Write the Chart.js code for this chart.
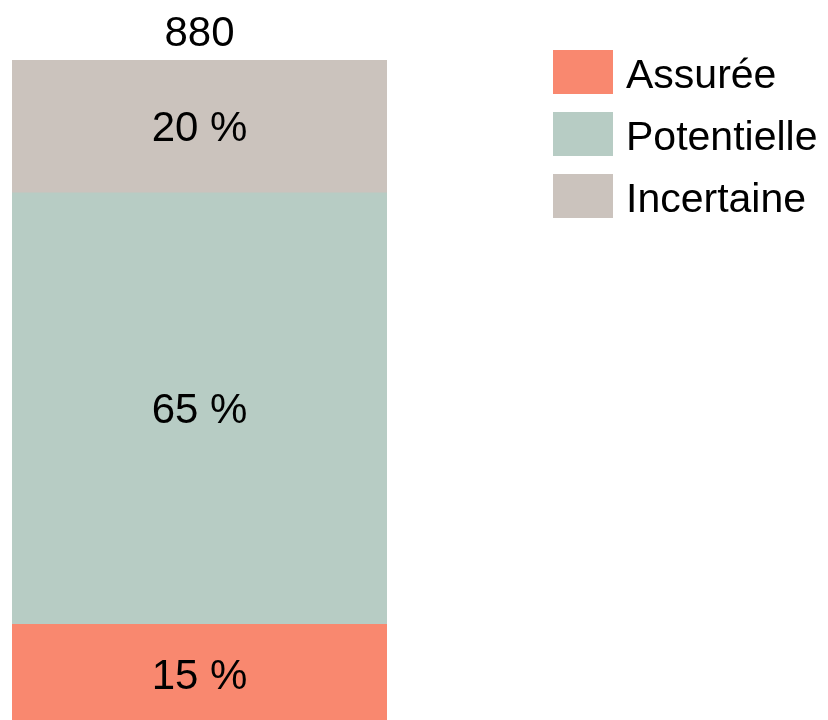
<!DOCTYPE html>
<html>
<head>
<meta charset="utf-8">
<script src="https://cdn.jsdelivr.net/npm/chart.js@4"></script>
<style>
  html, body { margin: 0; padding: 0; background: #fff; overflow: hidden; }
  #wrap { width: 828px; height: 724px; position: relative; }
</style>
</head>
<body>
<div id="wrap"><canvas id="chart"></canvas></div>
<script>
const categories = ["Total"];
const seriesNames = ["Assurée", "Potentielle", "Incertaine"];
const seriesValues = [[15], [65], [20]];
const seriesColors = ["#F9886F", "#B7CCC4", "#CBC3BD"];
const totals = [880];

const FONT = "Liberation Sans, Arial, sans-serif";

// labels inside segments + total on top + legend on the right
const labelPlugin = {
  id: "labels",
  afterDatasetsDraw(chart) {
    const ctx = chart.ctx;
    ctx.save();
    ctx.fillStyle = "#000";
    ctx.textAlign = "center";
    ctx.textBaseline = "middle";
    ctx.font = "42px " + FONT;
    chart.data.datasets.forEach((ds, i) => {
      chart.getDatasetMeta(i).data.forEach((bar, j) => {
        const mid = (bar.y + bar.base) / 2;
        ctx.fillText(ds.data[j] + " %", bar.x, mid + 3);
      });
    });
    const last = chart.getDatasetMeta(chart.data.datasets.length - 1);
    last.data.forEach((bar, j) => {
      ctx.textBaseline = "alphabetic";
      ctx.fillText(String(totals[j]), bar.x, bar.y - 14);
    });

    // legend
    ctx.textAlign = "left";
    ctx.textBaseline = "middle";
    ctx.font = "41px " + FONT;
    chart.data.datasets.forEach((ds, i) => {
      const top = 50 + i * 62;
      ctx.fillStyle = ds.backgroundColor;
      ctx.fillRect(553, top, 60, 44);
      ctx.fillStyle = "#000";
      ctx.fillText(ds.label, 626, top + 27);
    });
    ctx.restore();
  },
};

new Chart(document.getElementById("chart"), {
  type: "bar",
  data: {
    labels: categories,
    datasets: seriesNames.map((name, i) => ({
      label: name,
      data: seriesValues[i],
      backgroundColor: seriesColors[i],
      borderWidth: 0,
      barPercentage: 1,
      categoryPercentage: 1,
    })),
  },
  options: {
    responsive: true,
    maintainAspectRatio: false,
    animation: false,
    layout: { padding: { left: 12, right: 441, top: 60, bottom: 0 } },
    plugins: { legend: { display: false }, tooltip: { enabled: false } },
    scales: {
      x: { stacked: true, display: false },
      y: { stacked: true, display: false, min: 0, max: 100 },
    },
  },
  plugins: [labelPlugin],
});
</script>
</body>
</html>
